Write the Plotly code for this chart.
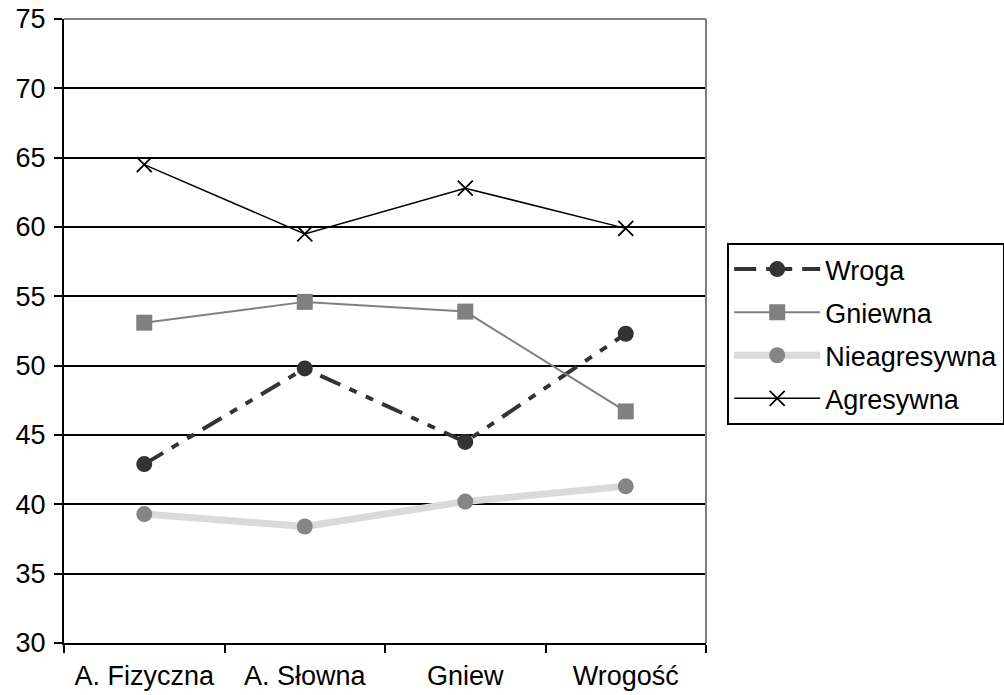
import plotly.graph_objects as go

categories = ["A. Fizyczna", "A. Słowna", "Gniew", "Wrogość"]
wroga = [42.9, 49.8, 44.5, 52.3]
gniewna = [53.1, 54.6, 53.9, 46.7]
nieagresywna = [39.3, 38.4, 40.2, 41.3]
agresywna = [64.5, 59.5, 62.8, 59.9]

fig = go.Figure()

fig.add_trace(go.Scatter(
    x=categories, y=wroga, name="Wroga", mode="lines+markers", legendgroup="a",
    line=dict(color="#333333", width=4, dash="22px,10px,8px,10px,8px,10px"),
    marker=dict(symbol="circle", size=16, color="#333333"),
))
fig.add_trace(go.Scatter(
    x=categories, y=gniewna, name="Gniewna", mode="lines+markers", legendgroup="b",
    line=dict(color="#808080", width=2),
    marker=dict(symbol="square", size=16, color="#808080"),
))
fig.add_trace(go.Scatter(
    x=categories, y=nieagresywna, name="Nieagresywna", mode="lines+markers", legendgroup="c",
    line=dict(color="#dadada", width=7),
    marker=dict(symbol="circle", size=16, color="#858585"),
))
fig.add_trace(go.Scatter(
    x=categories, y=agresywna, name="Agresywna", mode="lines+markers", legendgroup="d",
    line=dict(color="#000000", width=1.5),
    marker=dict(symbol="x-thin", size=15, line=dict(color="#000000", width=1.8)),
))

fig.update_layout(
    width=1004, height=695,
    margin=dict(l=64, r=298, t=19, b=52, autoexpand=False),
    paper_bgcolor="white", plot_bgcolor="white",
    font=dict(family="Liberation Sans, Arial, sans-serif", size=27, color="#000000"),
    legend=dict(
        x=1.033, y=0.641, xanchor="left", yanchor="top",
        bordercolor="#000000", borderwidth=2,
        font=dict(size=27), itemwidth=86, tracegroupgap=5,
    ),
    shapes=[
        dict(type="line", xref="paper", yref="paper", x0=1, x1=1, y0=0, y1=1,
             line=dict(color="#808080", width=2)),
        dict(type="line", xref="paper", yref="paper", x0=0, x1=1, y0=1, y1=1,
             line=dict(color="#808080", width=2)),
    ],
)

fig.update_xaxes(
    type="category", range=[-0.5, 3.5], automargin=False,
    showline=True, linecolor="#000000", linewidth=2,
    ticks="outside", tickson="boundaries", ticklen=8, tickcolor="#000000", tickwidth=2,
    showgrid=False, tickfont=dict(size=27), ticklabelstandoff=8,
)
fig.update_yaxes(
    range=[30, 75], dtick=5, tick0=30, automargin=False,
    showline=True, linecolor="#000000", linewidth=2,
    ticks="outside", ticklen=8, tickcolor="#000000", tickwidth=2,
    showgrid=True, gridcolor="#000000", gridwidth=2,
    zeroline=False, tickfont=dict(size=27), ticklabelstandoff=3,
)

fig.write_html("out.html")
